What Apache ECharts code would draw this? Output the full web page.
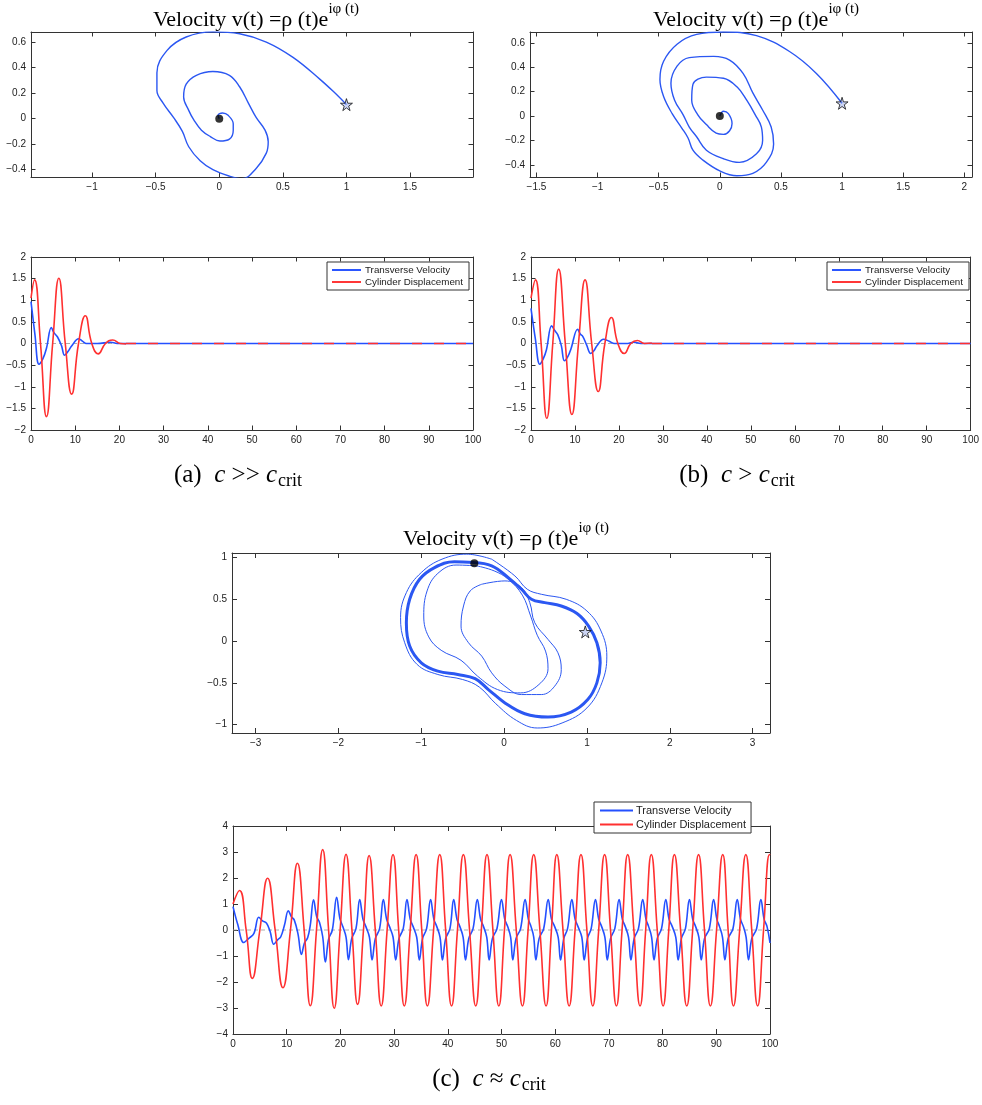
<!DOCTYPE html>
<html><head><meta charset="utf-8">
<script src="https://cdn.jsdelivr.net/npm/echarts@6/dist/echarts.min.js"></script>
<style>html,body{margin:0;padding:0;background:#fff}#c{width:982px;height:1105px}</style>
</head><body><div id="c"></div>
<script>
// ---------- DATA ----------
const seriesNames = ['Transverse Velocity', 'Cylinder Displacement'];
const titleMain = 'Velocity v(t) =ρ (t)e';
const titleSup = 'iφ (t)';

// tick values
const ticksAX = [-1, -0.5, 0, 0.5, 1, 1.5];
const ticksAY = [-0.4, -0.2, 0, 0.2, 0.4, 0.6];
const ticksBX = [-1.5, -1, -0.5, 0, 0.5, 1, 1.5, 2];
const ticksBY = [-0.4, -0.2, 0, 0.2, 0.4, 0.6];
const ticksCX = [-3, -2, -1, 0, 1, 2, 3];
const ticksCY = [-1, -0.5, 0, 0.5, 1];

// phase plane (a)
const phaseA = [[1.00,0.11],[0.90,0.21],[0.79,0.31],[0.58,0.48],[0.37,0.60],[0.16,0.665],[-0.05,0.68],[-0.26,0.64],[-0.41,0.535],[-0.49,0.36],[-0.49,0.22],[-0.44,0.12],[-0.36,0.01],[-0.29,-0.10],[-0.24,-0.22],[-0.15,-0.33],[-0.05,-0.40],[0.08,-0.45],[0.18,-0.47],[0.29,-0.39],[0.37,-0.27],[0.385,-0.18],[0.36,-0.09],[0.29,0.01],[0.23,0.12],[0.16,0.25],[0.08,0.34],[-0.05,0.37],[-0.18,0.34],[-0.26,0.27],[-0.28,0.17],[-0.24,0.065],[-0.2,-0.01],[-0.14,-0.09],[-0.07,-0.14],[0.005,-0.175],[0.08,-0.16],[0.11,-0.09],[0.11,-0.04],[0.07,0.026],[0.026,0.044],[-0.01,0.026],[0,0]];
// phase plane (b)
const phaseB = [[1.0,0.105],[0.79,0.35],[0.57,0.53],[0.30,0.66],[0.03,0.69],[-0.19,0.67],[-0.35,0.59],[-0.46,0.45],[-0.49,0.30],[-0.46,0.16],[-0.39,0.02],[-0.31,-0.10],[-0.26,-0.18],[-0.22,-0.28],[-0.14,-0.36],[0,-0.45],[0.14,-0.49],[0.27,-0.47],[0.38,-0.38],[0.44,-0.23],[0.42,-0.09],[0.35,0.05],[0.27,0.19],[0.19,0.35],[0.08,0.46],[-0.05,0.49],[-0.25,0.48],[-0.35,0.41],[-0.40,0.27],[-0.37,0.13],[-0.30,0.01],[-0.25,-0.09],[-0.19,-0.17],[-0.11,-0.28],[0.03,-0.35],[0.16,-0.38],[0.30,-0.31],[0.35,-0.2],[0.34,-0.09],[0.29,0.01],[0.22,0.13],[0.14,0.24],[0.03,0.31],[-0.11,0.32],[-0.22,0.26],[-0.23,0.13],[-0.18,0.01],[-0.11,-0.07],[-0.03,-0.14],[0.03,-0.15],[0.08,-0.12],[0.1,-0.06],[0.07,0.02],[0.03,0.04],[0,0]];
// phase plane (c)
const limitCycleC = [[-0.36,0.94],[-0.15,0.90],[0.05,0.76],[0.21,0.62],[0.33,0.50],[0.49,0.46],[0.69,0.42],[0.88,0.33],[1.02,0.18],[1.12,-0.02],[1.16,-0.26],[1.12,-0.50],[1.01,-0.70],[0.81,-0.85],[0.53,-0.91],[0.25,-0.87],[0.01,-0.74],[-0.19,-0.58],[-0.35,-0.45],[-0.56,-0.40],[-0.80,-0.36],[-1.00,-0.26],[-1.14,-0.06],[-1.18,0.22],[-1.14,0.50],[-1.02,0.74],[-0.84,0.88],[-0.60,0.95],[-0.36,0.94]];
const outerLoopC = [[-0.15,0.98],[-0.45,1.04],[-0.75,0.98],[-1.0,0.82],[-1.18,0.58],[-1.25,0.28],[-1.2,-0.02],[-1.05,-0.28],[-0.8,-0.4],[-0.5,-0.46],[-0.3,-0.55],[-0.1,-0.75],[0.15,-0.95],[0.4,-1.04],[0.7,-0.98],[1.0,-0.8],[1.18,-0.5],[1.24,-0.18],[1.17,0.12],[1.0,0.36],[0.75,0.5],[0.45,0.56],[0.28,0.62],[0.13,0.78],[-0.15,0.98]];
const middleLoopC = [[-0.33,0.90],[-0.58,0.91],[-0.8,0.81],[-0.93,0.6],[-0.97,0.30],[-0.91,0.05],[-0.76,-0.11],[-0.52,-0.23],[-0.32,-0.42],[-0.08,-0.58],[0.2,-0.62],[0.42,-0.52],[0.53,-0.33],[0.5,-0.12],[0.4,0.07],[0.32,0.3],[0.22,0.55],[0.05,0.74],[-0.12,0.84],[-0.33,0.90]];
const innerLoopC = [[-0.27,0.68],[0.01,0.72],[0.21,0.64],[0.31,0.46],[0.37,0.22],[0.53,0.02],[0.65,-0.14],[0.69,-0.34],[0.61,-0.54],[0.45,-0.64],[0.21,-0.64],[0.01,-0.54],[-0.15,-0.38],[-0.27,-0.18],[-0.43,-0.02],[-0.52,0.18],[-0.49,0.42],[-0.41,0.6],[-0.27,0.68]];
const startA = [[1.0, 0.11]], endA = [[0, 0]];
const startB = [[1.0, 0.105]], endB = [[0, 0]];
const startC = [[0.98, 0.11]], endC = [[-0.36, 0.93]];

// time series (a)
const velA = [[0,0.97],[0.9,0.2],[1.8,-0.48],[2.7,-0.35],[3.5,-0.11],[4.6,0.37],[5.2,0.25],[6.0,0.15],[6.9,-0.05],[7.6,-0.27],[8.4,-0.18],[9.1,-0.07],[10.8,0.11],[11.7,0.05],[12.5,0.0],[15,0],[18,0.03],[19.5,0],[100,0]];
const dispA = [[0,1.05],[0.8,1.47],[2.15,0],[3.5,-1.69],[4.9,0],[6.3,1.51],[7.75,0],[9.2,-1.17],[10.75,0],[12.3,0.64],[13.75,0],[15.2,-0.24],[16.85,0],[18.5,0.08],[20.2,0],[21.5,-0.01]];
// time series (b)
const velB = [[0,0.81],[1.0,0.1],[2.0,-0.48],[2.8,-0.35],[3.5,-0.15],[4.7,0.41],[5.4,0.3],[6.1,0.2],[6.9,-0.05],[7.6,-0.4],[8.4,-0.3],[9.1,-0.12],[10.6,0.33],[11.2,0.22],[11.8,0.16],[12.6,-0.02],[13.6,-0.23],[14.3,-0.17],[15.0,-0.05],[16.5,0.1],[17.8,0.05],[19,0.0],[22,0.0],[23.3,0.03],[25,0],[100,0]];
const dispB = [[0,1.05],[1.0,1.47],[2.3,0],[3.6,-1.73],[4.95,0],[6.3,1.72],[7.8,0],[9.3,-1.64],[10.8,0],[12.3,1.47],[13.8,0],[15.3,-1.11],[16.8,0],[18.3,0.6],[19.75,0],[21.2,-0.23],[22.7,0],[24.2,0.07],[25.8,0],[27.5,0.01]];
// time series (c)
const velC = [[0,0.9],[0.9,0.2],[2.0,-0.48],[2.9,-0.33],[3.9,-0.13],[4.8,0.49],[5.5,0.35],[6.25,0.26],[6.9,-0.05],[7.6,-0.55],[8.3,-0.38],[8.9,-0.26],[9.6,0.2],[10.3,0.74],[10.9,0.5],[11.4,0.39],[12.1,-0.15],[12.75,-0.94],[13.3,-0.5],[13.9,-0.3],[14.4,0.2],[15.0,1.16],[15.6,0.5],[16.1,0.3],[16.7,-0.25],[17.2,-1.23],[17.8,-0.35],[18.5,0.0],
[19.3,1.26],[19.9,0.45],[20.45,0.13],[21.05,-0.27],[21.5,-1.14],[22.1,-0.33],[22.9,0.05],
[23.6,1.17],[24.2,0.42],[24.75,0.13],[25.4,-0.27],[25.9,-1.15],[26.5,-0.33],[27.3,0.05],
[28.0,1.17],[28.6,0.42],[29.15,0.13],[29.8,-0.27],[30.3,-1.15],[30.9,-0.33],[31.7,0.05],
[32.4,1.17],[33.0,0.42],[33.55,0.13],[34.2,-0.27],[34.7,-1.15],[35.3,-0.33],[36.05,0.05],
[36.8,1.17],[37.4,0.42],[37.95,0.13],[38.55,-0.27],[39.0,-1.15],[39.6,-0.33],[40.4,0.05],
[41.1,1.17],[41.7,0.42],[42.25,0.13],[42.85,-0.27],[43.3,-1.15],[43.9,-0.33],[44.7,0.05],
[45.5,1.17],[46.1,0.42],[46.65,0.13],[47.25,-0.27],[47.7,-1.15],[48.3,-0.33],[49.15,0.05],
[50.0,1.17],[50.6,0.42],[51.15,0.13],[51.7,-0.27],[52.1,-1.15],[52.7,-0.33],[53.55,0.05],
[54.4,1.17],[55.0,0.42],[55.5,0.13],[56.0,-0.27],[56.4,-1.15],[57.0,-0.33],[57.85,0.05],
[58.7,1.17],[59.3,0.42],[59.9,0.13],[60.55,-0.27],[61.0,-1.15],[61.6,-0.33],[62.3,0.05],
[63.1,1.17],[63.7,0.42],[64.25,0.13],[64.95,-0.27],[65.4,-1.15],[66.0,-0.33],[66.7,0.05],
[67.5,1.17],[68.1,0.42],[68.65,0.13],[69.25,-0.27],[69.7,-1.15],[70.3,-0.33],[71.1,0.05],
[71.9,1.17],[72.5,0.42],[73.05,0.13],[73.65,-0.27],[74.1,-1.15],[74.7,-0.33],[75.5,0.05],
[76.3,1.17],[76.9,0.42],[77.4,0.13],[77.95,-0.27],[78.4,-1.15],[79.0,-0.33],[79.8,0.05],
[80.6,1.17],[81.2,0.42],[81.8,0.13],[82.45,-0.27],[82.9,-1.15],[83.5,-0.33],[84.25,0.05],
[85.0,1.17],[85.6,0.42],[86.15,0.13],[86.75,-0.27],[87.2,-1.15],[87.8,-0.33],[88.7,0.05],
[89.5,1.17],[90.1,0.42],[90.6,0.13],[91.15,-0.27],[91.6,-1.15],[92.2,-0.33],[93.1,0.05],
[93.9,1.17],[94.5,0.42],[95.05,0.13],[95.55,-0.27],[96.0,-1.15],[96.6,-0.33],[97.5,0.05],
[98.3,1.17],[98.9,0.42],[99.45,0.13],[100,-0.5]];
const dispC = [[0,1.0],[1.2,1.52],[2.45,0],[3.6,-1.86],[5.0,0],[6.45,1.99],[7.85,0],[9.3,-2.22],[10.7,0],[12.0,2.57],[13.25,0],[14.4,-2.91],[15.55,0],[16.7,3.09],[17.8,0],[18.85,-3.01],[19.95,0],[21.05,2.91],[22.15,0],[23.2,-2.86],[24.3,0],[25.35,2.86],[26.5,0],[27.6,-2.92],[28.7,0],[29.8,2.9],[30.85,0],[31.9,-2.92],[33.0,0],[34.1,2.9],[35.15,0],[36.2,-2.92],[37.35,0],[38.5,2.9],[39.6,0],[40.7,-2.92],[41.8,0],[42.9,2.9],[44.05,0],[45.2,-2.92],[46.25,0],[47.3,2.9],[48.4,0],[49.5,-2.92],[50.55,0],[51.6,2.9],[52.75,0],[53.9,-2.92],[54.95,0],[56.0,2.9],[57.15,0],[58.3,-2.92],[59.3,0],[60.3,2.9],[61.45,0],[62.6,-2.92],[63.7,0],[64.8,2.9],[65.9,0],[67.0,-2.92],[68.1,0],[69.2,2.9],[70.3,0],[71.4,-2.92],[72.45,0],[73.5,2.9],[74.65,0],[75.8,-2.92],[76.85,0],[77.9,2.9],[79.0,0],[80.1,-2.92],[81.15,0],[82.2,2.9],[83.35,0],[84.5,-2.92],[85.6,0],[86.7,2.9],[87.8,0],[88.9,-2.92],[90.05,0],[91.2,2.9],[92.2,0],[93.2,-2.92],[94.35,0],[95.5,2.9],[96.6,0],[97.7,-2.92],[98.8,0],[99.9,2.9],[100,2.88]];
const zeroLine = [[0,0],[100,0]];
const tailA = [[21.5,0],[100,0]];
const tailB = [[27.5,0],[100,0]];

// ---------- CHART ----------
const BLUE = '#2450ff', RED = '#ff3030', PBLUE = '#2b57f2';
const chart = echarts.init(document.getElementById('c'), null, {renderer:'canvas'});
const fmt = v => (v < 0 ? '\u2212' + String(-v) : String(v));
const lab = {fontFamily:'Liberation Sans, Arial, sans-serif', fontSize:10, color:'#222'};
const xAxis = [], yAxis = [], grid = [];
function addGrid(box, xr, yr, tl) {
  const gi = grid.length;
  grid.push({left:box[0], top:box[1], width:box[2], height:box[3], containLabel:false});
  const line = {show:true, onZero:false, lineStyle:{color:'#333', width:1}};
  function ax(r, pos, showLab) {
    const a = {type:'value', gridIndex:gi, position:pos, min:r.min, max:r.max,
      axisLine:line, splitLine:{show:false},
      axisTick:{show:true, inside:true, length:tl, lineStyle:{color:'#333'}},
      axisLabel:Object.assign({show:showLab, formatter:fmt, margin:5}, lab)};
    if (r.ticks) { a.axisTick.customValues = r.ticks; a.axisLabel.customValues = r.ticks; }
    else { a.interval = r.interval; }
    return a;
  }
  xAxis.push(ax(xr,'bottom',true)); xAxis.push(ax(xr,'top',false));
  yAxis.push(ax(yr,'left',true)); yAxis.push(ax(yr,'right',false));
  return 2*gi;
}
const gA1 = addGrid([31,32,442,145], {min:-1.48,max:1.995,ticks:ticksAX}, {min:-0.457,max:0.679,ticks:ticksAY}, 4.5);
const gB1 = addGrid([530,32,442,145], {min:-1.553,max:2.063,ticks:ticksBX}, {min:-0.50,max:0.69,ticks:ticksBY}, 4.5);
const gA2 = addGrid([31,257,442,173], {min:0,max:100,interval:10}, {min:-2,max:2,interval:0.5}, 4.5);
const gB2 = addGrid([531,257,442,173], {min:0,max:100,interval:10}, {min:-2,max:2,interval:0.5}, 4.5);
const gC1 = addGrid([232,553,538,180], {min:-3.285,max:3.21,ticks:ticksCX}, {min:-1.10,max:1.054,ticks:ticksCY}, 5);
const gC2 = addGrid([233,826,537,208], {min:0,max:100,interval:10}, {min:-4,max:4,interval:1}, 5);

const series = [];
function line(ai, data, color, width, opts) {
  series.push(Object.assign({type:'line', xAxisIndex:ai, yAxisIndex:ai, data:data, symbol:'none', showSymbol:false,
    lineStyle:{color:color, width:width}, itemStyle:{color:color}, clip:true, silent:true, animation:false}, opts||{}));
}
const STAR = 'path://M50,0 L61,35 L98,35 L68,57 L79,91 L50,70 L21,91 L32,57 L2,35 L39,35 Z';
function markers(ai, start, end) {
  series.push({type:'scatter', xAxisIndex:ai, yAxisIndex:ai, data:end, symbol:'circle', symbolSize:8, itemStyle:{color:'#000'}, silent:true, animation:false, z:5});
  series.push({type:'scatter', xAxisIndex:ai, yAxisIndex:ai, data:start, symbol:STAR, symbolSize:12, itemStyle:{color:'rgba(140,160,230,0.55)', borderColor:'#111', borderWidth:1}, silent:true, animation:false, z:5});
}
// phase plots
line(gA1, phaseA, PBLUE, 1.4, {smooth:0.4});
markers(gA1, startA, endA);
line(gB1, phaseB, PBLUE, 1.4, {smooth:0.4});
markers(gB1, startB, endB);
line(gC1, innerLoopC, PBLUE, 1, {smooth:0.4});
line(gC1, middleLoopC, PBLUE, 1, {smooth:0.4});
line(gC1, outerLoopC, PBLUE, 1, {smooth:0.4});
line(gC1, limitCycleC, PBLUE, 3, {smooth:0.4});
markers(gC1, startC, endC);
// time series
const zeroStyle = {lineStyle:{color:'#999', width:0.8, type:[4,3]}};
[[gA2, velA, dispA, tailA],[gB2, velB, dispB, tailB],[gC2, velC, dispC, null]].forEach(([g, v, d, tail]) => {
  line(g, zeroLine, '#999', 0.8, zeroStyle);
  line(g, v, BLUE, 1.6, {name:seriesNames[0], smooth:0.4});
  line(g, d, RED, 1.6, {name:seriesNames[1], smooth:0.5});
  if (tail) line(g, tail, RED, 1.6, {lineStyle:{color:RED, width:1.6, type:[10,12]}});
});

const legBase = {orient:'vertical', selectedMode:false, data:seriesNames, borderColor:'#333', borderWidth:1,
  backgroundColor:'#fff', z:20, itemGap:2, icon:'path://M0,4 L30,4 L30,6 L0,6 Z'};
const legend = [
  Object.assign({}, legBase, {left:327, top:262, itemWidth:29, itemHeight:9, padding:[3,6,3,5], textStyle:{fontFamily:'Liberation Sans, Arial', fontSize:9.8, color:'#222', padding:[0,0,0,-1]}}),
  Object.assign({}, legBase, {left:827, top:262, itemWidth:29, itemHeight:9, padding:[3,6,3,5], textStyle:{fontFamily:'Liberation Sans, Arial', fontSize:9.8, color:'#222', padding:[0,0,0,-1]}}),
  Object.assign({}, legBase, {left:594, top:802, itemWidth:33, itemHeight:11, itemGap:3, padding:[3,5,3,6], textStyle:{fontFamily:'Liberation Sans, Arial', fontSize:11, color:'#222', padding:[0,0,0,-2]}})
];

const serif = 'Liberation Serif, Times New Roman, serif';
function titleAt(cx, top) {
  return {text:'{a|' + titleMain + '}{s|' + titleSup + '}', left:cx, top:top, textAlign:'center', padding:0,
    textStyle:{fontWeight:'normal', rich:{a:{fontFamily:serif, fontSize:22, fontWeight:'normal', color:'#000', verticalAlign:'bottom', lineHeight:29},
                     s:{fontFamily:serif, fontSize:15, fontWeight:'normal', color:'#000', verticalAlign:'top', lineHeight:15}}}};
}
function caption(cx, top, lbl, rel) {
  const st = (o) => Object.assign({fontFamily:serif, fontSize:25, fontWeight:'normal', color:'#000', verticalAlign:'top', lineHeight:27}, o);
  return {text:'{n|' + lbl + '  }{i|c}{n| ' + rel + ' }{i|c}{b|crit}', left:cx, top:top, textAlign:'center', padding:0,
    textStyle:{fontWeight:'normal', rich:{n:st({}), i:st({fontStyle:'italic'}),
                     b:st({fontSize:18, verticalAlign:'bottom', lineHeight:20, padding:[0,0,0,1]})}}};
}
const title = [titleAt(256, 2), titleAt(756, 2), titleAt(506, 521),
  caption(238, 463, '(a)', '>>'), caption(737, 463, '(b)', '>'), caption(489, 1067, '(c)', '\u2248')];

chart.setOption({backgroundColor:'#fff', animation:false, grid, xAxis, yAxis, series, legend, title});
</script>
</body></html>
